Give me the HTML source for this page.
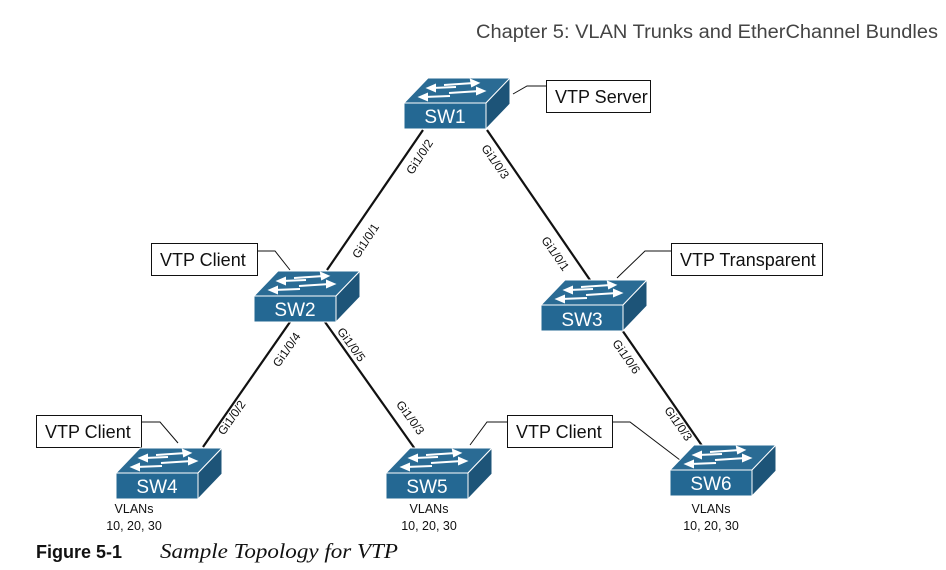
<!DOCTYPE html>
<html><head><style>body{margin:0;background:#fff}svg{display:block}</style></head><body>
<svg width="946" height="570" viewBox="0 0 946 570" xmlns="http://www.w3.org/2000/svg" font-family="Liberation Sans, sans-serif">
<defs>
<g id="sw">
<polygon points="0,0 24,-25 106,-25 82,0" fill="#2a6b94" stroke="#fff" stroke-width="1"/>
<polygon points="82,0 106,-25 106,1 82,26" fill="#1d5478" stroke="#fff" stroke-width="1"/>
<rect x="0" y="0" width="82" height="26" fill="#246893" stroke="#fff" stroke-width="1"/>
<g stroke="#fff" stroke-width="2" fill="#fff">
<line x1="40" y1="-18" x2="70" y2="-20"/><polygon points="74,-20 67,-23 68,-17"/>
<line x1="28" y1="-15" x2="52" y2="-16"/><polygon points="24,-15 31,-18 31,-12"/>
<line x1="45" y1="-10" x2="76" y2="-12"/><polygon points="80,-12 73,-15 73,-9"/>
<line x1="20" y1="-6" x2="46" y2="-7"/><polygon points="16,-6 23,-9 23,-3"/>
</g>
</g>
</defs>
<text x="476" y="38" textLength="462" lengthAdjust="spacingAndGlyphs" font-size="19" fill="#444">Chapter 5: VLAN Trunks and EtherChannel Bundles</text>
<g stroke="#111" stroke-width="2.2">
<line x1="423" y1="130" x2="327" y2="270"/>
<line x1="487" y1="130" x2="590" y2="280"/>
<line x1="290" y1="322" x2="203" y2="447"/>
<line x1="325" y1="322" x2="415" y2="449"/>
<line x1="622" y1="330" x2="705" y2="450"/>
</g>
<g stroke="#111" stroke-width="1" fill="none">
<polyline points="546,86 527,86 513,94"/>
<polyline points="257,251 275,251 290,270"/>
<polyline points="671,251 645,251 617,278"/>
<polyline points="141,422 160,422 178,443"/>
<polyline points="507,422 487,422 470,445"/>
<polyline points="612,422 630,422 680,460"/>
</g>
<g fill="#fff" stroke="#111" stroke-width="1">
<rect x="546.5" y="80.5" width="104" height="32"/>
<rect x="151.5" y="243.5" width="106" height="32"/>
<rect x="671.5" y="243.5" width="151" height="32"/>
<rect x="36.5" y="415.5" width="105" height="32"/>
<rect x="507.5" y="415.5" width="105" height="32"/>
</g>
<g font-size="18" fill="#111">
<text x="555" y="103">VTP Server</text>
<text x="160" y="266">VTP Client</text>
<text x="680" y="266">VTP Transparent</text>
<text x="45" y="438">VTP Client</text>
<text x="516" y="438">VTP Client</text>
</g>
<use href="#sw" x="404" y="103"/>
<use href="#sw" x="254" y="296"/>
<use href="#sw" x="541" y="305"/>
<use href="#sw" x="116" y="473"/>
<use href="#sw" x="386" y="473"/>
<use href="#sw" x="670" y="470"/>
<g font-size="19" fill="#fff" text-anchor="middle">
<text x="445" y="123">SW1</text>
<text x="295" y="316">SW2</text>
<text x="582" y="326">SW3</text>
<text x="157" y="493">SW4</text>
<text x="427" y="493">SW5</text>
<text x="711" y="490">SW6</text>
</g>
<g font-size="12" fill="#111" text-anchor="middle">
<text transform="translate(423,159) rotate(-57)">Gi1/0/2</text>
<text transform="translate(492,164) rotate(55)">Gi1/0/3</text>
<text transform="translate(369,243) rotate(-57)">Gi1/0/1</text>
<text transform="translate(552,256) rotate(55)">Gi1/0/1</text>
<text transform="translate(290,352) rotate(-55)">Gi1/0/4</text>
<text transform="translate(348,347) rotate(54)">Gi1/0/5</text>
<text transform="translate(235,420) rotate(-55)">Gi1/0/2</text>
<text transform="translate(407,420) rotate(54)">Gi1/0/3</text>
<text transform="translate(623,359) rotate(55)">Gi1/0/6</text>
<text transform="translate(675,426) rotate(55)">Gi1/0/3</text>
</g>
<g font-size="12.5" fill="#111" text-anchor="middle">
<text x="134" y="513">VLANs</text><text x="134" y="530">10, 20, 30</text>
<text x="429" y="513">VLANs</text><text x="429" y="530">10, 20, 30</text>
<text x="711" y="513">VLANs</text><text x="711" y="530">10, 20, 30</text>
</g>
<text x="36" y="558" textLength="86" lengthAdjust="spacingAndGlyphs" font-size="18" font-weight="bold" fill="#111">Figure 5-1</text>
<text x="160" y="558" textLength="238" lengthAdjust="spacingAndGlyphs" font-size="21" font-style="italic" font-family="Liberation Serif, serif" fill="#111">Sample Topology for VTP</text>
</svg>
</body></html>
